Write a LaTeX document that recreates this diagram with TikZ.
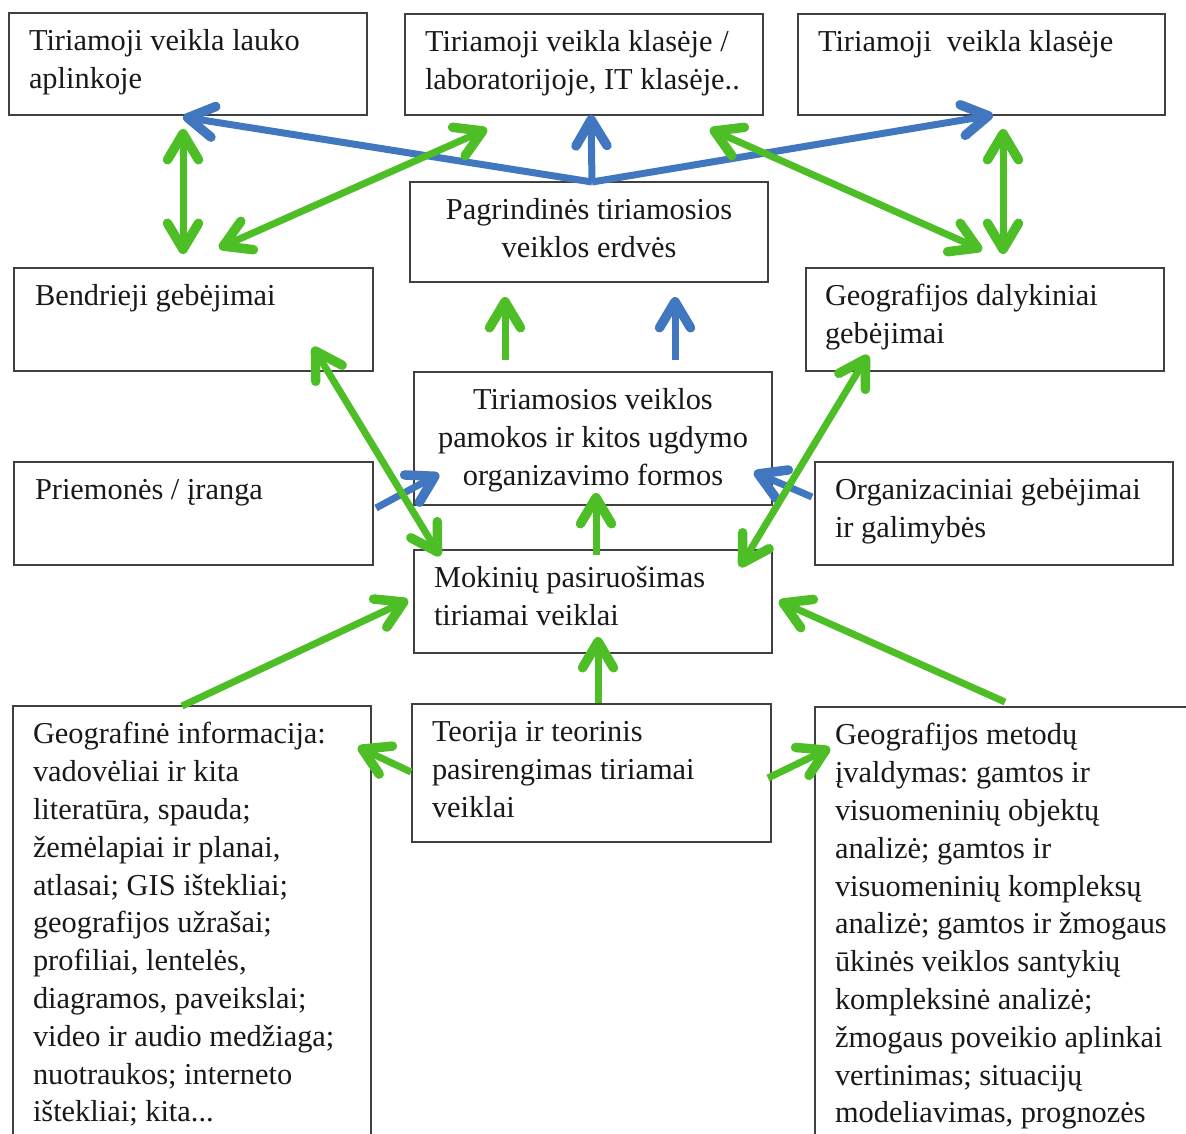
\documentclass[tikz,border=0pt]{standalone}
\usepackage{fontspec}
\setmainfont{Liberation Serif}
\usetikzlibrary{arrows.meta,calc}
\definecolor{myblue}{RGB}{65,119,190}
\definecolor{mygreen}{RGB}{78,190,38}
\definecolor{boxgray}{RGB}{64,64,64}
\frenchspacing
\begin{document}
\begin{tikzpicture}[x=1pt,y=-1pt,
  box/.style={draw=boxgray,line width=1.1pt,inner sep=0pt,outer sep=0pt,anchor=north west,minimum width=358pt,minimum height=102pt},
  txt/.style={font=\fontsize{30.4}{37.8}\selectfont,inner sep=0pt,outer sep=0pt,align=left,anchor=north west,text=black!90},
  ctxt/.style={txt,align=center,anchor=north},
  >={Straight Barb[length=26pt,width=31pt,line width=9.5pt 0,line cap=round,line join=round]},
  bl/.style={draw=myblue,line width=7pt,->},
  gr/.style={draw=mygreen,line width=7pt,->},
  grr/.style={draw=mygreen,line width=7pt,<->}
]
\useasboundingbox (0,0) rectangle (1186,1133);
\clip (0,0) rectangle (1186,1133);

% boxes
\node[box] (b1) at (9,13) {};
\node[box,minimum height=101pt] (b2) at (405,14) {};
\node[box,minimum width=367pt,minimum height=101pt] (b3) at (798,14) {};
\node[box,minimum height=100pt] (b4) at (410,182) {};
\node[box,minimum width=359pt,minimum height=103pt] (b5) at (14,268) {};
\node[box,minimum height=103pt] (b6) at (806,268) {};
\node[box,minimum height=133pt] (b7) at (414,372) {};
\node[box,minimum width=359pt,minimum height=103pt] (b8) at (14,462) {};
\node[box,minimum height=103pt] (b9) at (815,462) {};
\node[box,minimum height=103pt] (b10) at (414,550) {};
\node[box,minimum width=359pt,minimum height=138pt] (b11) at (412,704) {};
\node[box,minimum height=500pt] (b12) at (13,706) {};
\node[box,minimum width=420pt,minimum height=500pt] (b13) at (815,707) {};

% texts
\node[txt] (t1) at ($(b1.north west)+(20,11.5)$) {\strut Tiriamoji veikla lauko\\aplinkoje};
\node[txt] (t2) at ($(b2.north west)+(20,11.5)$) {\strut Tiriamoji veikla klasėje /\\laboratorijoje, IT klasėje..};
\node[txt] (t3) at ($(b3.north west)+(20,11.5)$) {\strut Tiriamoji\ \ veikla klasėje};
\node[ctxt] (t4) at ($(b4.north)+(0,11.5)$) {\strut Pagrindinės tiriamosios\\veiklos erdvės};
\node[txt] (t5) at ($(b5.north west)+(21,11.5)$) {\strut Bendrieji gebėjimai};
\node[txt] (t6) at ($(b6.north west)+(19,11.5)$) {\strut Geografijos dalykiniai\\gebėjimai};
\node[ctxt] (t7) at ($(b7.north)+(0,11.5)$) {\strut Tiriamosios veiklos\\pamokos ir kitos ugdymo\\organizavimo formos};
\node[txt] (t8) at ($(b8.north west)+(21,11.5)$) {\strut Priemonės / įranga};
\node[txt] (t9) at ($(b9.north west)+(20,11.5)$) {\strut Organizaciniai gebėjimai\\ir galimybės};
\node[txt] (t10) at ($(b10.north west)+(20,11.5)$) {\strut Mokinių pasiruošimas\\tiriamai veiklai};
\node[txt] (t11) at ($(b11.north west)+(20,11.5)$) {\strut Teorija ir teorinis\\pasirengimas tiriamai\\veiklai};
\node[txt] (t12) at ($(b12.north west)+(20,11.5)$) {\strut Geografinė informacija:\\vadovėliai ir kita\\literatūra, spauda;\\žemėlapiai ir planai,\\atlasai; GIS ištekliai;\\geografijos užrašai;\\profiliai, lentelės,\\diagramos, paveikslai;\\video ir audio medžiaga;\\nuotraukos; interneto\\ištekliai; kita...};
\node[txt] (t13) at ($(b13.north west)+(20,11.5)$) {\strut Geografijos metodų\\įvaldymas: gamtos ir\\visuomeninių objektų\\analizė; gamtos ir\\visuomeninių kompleksų\\analizė; gamtos ir žmogaus\\ūkinės veiklos santykių\\kompleksinė analizė;\\žmogaus poveikio aplinkai\\vertinimas; situacijų\\modeliavimas, prognozės};

% blue connectors
\coordinate (hub) at ($(b4.north)+(3,0)$);
\draw[bl] (hub) -- ($(b1.south west)+(174,2)$);
\draw[bl] (hub) -- ($(b2.south west)+(186,0)$);
\draw[bl] (hub) -- ($(b3.south west)+(195,0)$);
\draw[bl] ($(b7.north)+(82,-12)$) -- ($(b4.south)+(86,15)$);
\draw[bl] ($(b8.north east)+(3,46)$) -- ($(b7.south west)+(25,-31)$);
\draw[bl] ($(b9.north west)+(-3,35)$) -- ($(b7.south east)+(-18,-33)$);

% green connectors
\draw[grr] ($(b1.south west)+(174,14)$) -- ($(b5.north west)+(169,-14)$);
\draw[grr] ($(b5.north west)+(205,-20)$) -- ($(b2.south west)+(82,14)$);
\draw[grr] ($(b2.south east)+(-53,14)$) -- ($(b6.north west)+(176,-18)$);
\draw[grr] ($(b3.south west)+(205,14)$) -- ($(b6.north west)+(197,-14)$);
\draw[gr] ($(b7.north)+(-88,-12)$) -- ($(b4.south)+(-84,15)$);
\draw[grr] ($(b5.north east)+(-60,79)$) -- ($(b10.north west)+(26,6)$);
\draw[grr] ($(b6.south west)+(62,-16)$) -- ($(b10.north east)+(-32,17)$);
\draw[gr] ($(b10.north)+(3,5)$) -- ($(b7.south)+(3,-12)$);
\draw[gr] ($(b12.north west)+(169,0)$) -- ($(b10.north west)+(-6,50)$);
\draw[gr] ($(b13.north west)+(190,-5)$) -- ($(b10.north east)+(7,51)$);
\draw[gr] ($(b11.north)+(6.5,-1)$) -- ($(b10.south)+(5,-16)$);
\draw[gr] ($(b11.north west)+(-1,68)$) -- ($(b12.north east)+(-13,41)$);
\draw[gr] ($(b11.north east)+(-3,74)$) -- ($(b13.north west)+(15,41)$);
\end{tikzpicture}
\end{document}
